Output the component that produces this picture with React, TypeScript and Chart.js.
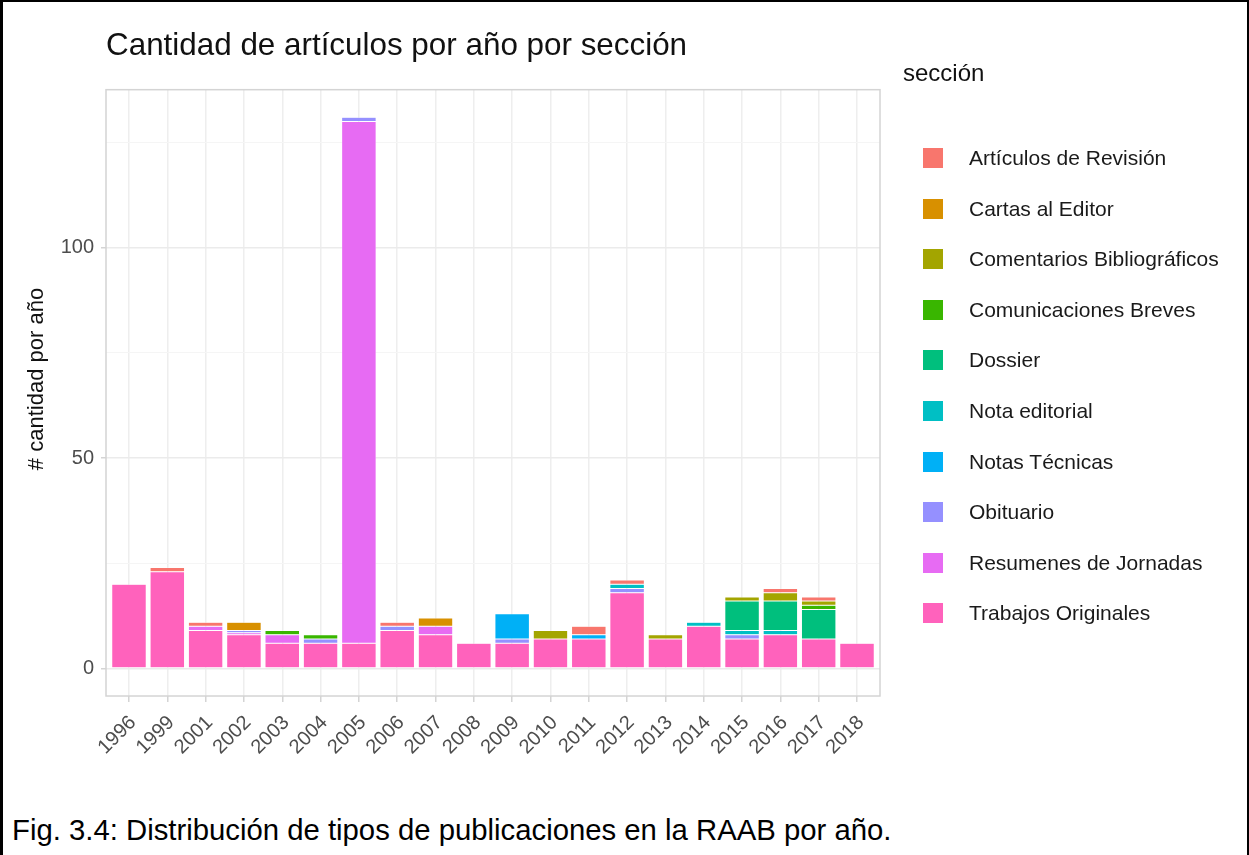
import React, { useEffect, useRef } from 'react';
import { Chart, registerables } from 'chart.js';

Chart.register(...registerables);

const years = ['1996', '1999', '2001', '2002', '2003', '2004', '2005', '2006', '2007', '2008', '2009', '2010', '2011', '2012', '2013', '2014', '2015', '2016', '2017', '2018'];

const sections = ['Artículos de Revisión', 'Cartas al Editor', 'Comentarios Bibliográficos', 'Comunicaciones Breves', 'Dossier', 'Nota editorial', 'Notas Técnicas', 'Obituario', 'Resumenes de Jornadas', 'Trabajos Originales'];
const sectionColors = ['#F8766D', '#D89000', '#A3A500', '#39B600', '#00BF7D', '#00BFC4', '#00B0F6', '#9590FF', '#E76BF3', '#FF62BC'];

const articulosRevision = [0, 1, 1, 0, 0, 0, 0, 1, 0, 0, 0, 0, 2, 1, 0, 0, 0, 1, 1, 0];
const cartasEditor = [0, 0, 0, 2, 0, 0, 0, 0, 2, 0, 0, 0, 0, 0, 0, 0, 0, 0, 0, 0];
const comentariosBiblio = [0, 0, 0, 0, 0, 0, 0, 0, 0, 0, 0, 2, 0, 0, 1, 0, 1, 2, 1, 0];
const comunicacionesBreves = [0, 0, 0, 0, 1, 1, 0, 0, 0, 0, 0, 0, 0, 0, 0, 0, 0, 0, 1, 0];
const dossier = [0, 0, 0, 0, 0, 0, 0, 0, 0, 0, 0, 0, 0, 0, 0, 0, 7, 7, 7, 0];
const notaEditorial = [0, 0, 0, 0, 0, 0, 0, 0, 0, 0, 0, 0, 0, 1, 0, 1, 1, 1, 0, 0];
const notasTecnicas = [0, 0, 0, 0, 0, 0, 0, 0, 0, 0, 6, 0, 1, 0, 0, 0, 0, 0, 0, 0];
const obituario = [0, 0, 0, 0.5, 0, 1, 1, 1, 0, 0, 1, 0, 0, 1, 0, 0, 1, 0, 0, 0];
const resumenesJornadas = [0, 0, 1, 0.5, 2, 0, 124, 0, 2, 0, 0, 0, 0, 0, 0, 0, 0, 0, 0, 0];
const trabajosOriginales = [20, 23, 9, 8, 6, 6, 6, 9, 8, 6, 6, 7, 7, 18, 7, 10, 7, 8, 7, 6];

const seriesValues = [articulosRevision, cartasEditor, comentariosBiblio, comunicacionesBreves, dossier, notaEditorial, notasTecnicas, obituario, resumenesJornadas, trabajosOriginales];

const yTicks = [0, 25, 50, 75, 100, 125];

const chartTitle = 'Cantidad de artículos por año por sección';
const yAxisTitle = '# cantidad por año';
const legendTitle = 'sección';
const caption = 'Fig. 3.4: Distribución de tipos de publicaciones en la RAAB por año.';

const FONT = '"Liberation Sans", Arial, Helvetica, sans-serif';

const panelDecor = {
  id: 'panelDecor',
  afterDatasetsDraw(chart: any) {
    const { ctx, chartArea } = chart;
    ctx.save();
    ctx.strokeStyle = '#D4D4D4';
    ctx.lineWidth = 1.5;
    ctx.strokeRect(chartArea.left, chartArea.top, chartArea.right - chartArea.left, chartArea.bottom - chartArea.top);
    ctx.restore();
  },
  afterDraw(chart: any) {
    const { ctx } = chart;
    ctx.save();
    ctx.translate(37, 379);
    ctx.rotate(-Math.PI / 2);
    ctx.textAlign = 'center';
    ctx.textBaseline = 'middle';
    ctx.fillStyle = '#111';
    ctx.font = '22px ' + FONT;
    ctx.fillText(yAxisTitle, 0, 0);
    ctx.restore();
  },
};

export default function App() {
  const canvasRef = useRef<HTMLCanvasElement | null>(null);

  useEffect(() => {
    if (!canvasRef.current) return;
    // stack bottom-first: Trabajos Originales at the bottom
    const order = sections.map((_, i) => i).reverse();
    const datasets = order.map((si) => ({
      label: sections[si],
      data: years.map((_, i) => ({ x: i, y: seriesValues[si][i] ? seriesValues[si][i] : null })),
      backgroundColor: sectionColors[si],
      borderColor: 'rgba(255,255,255,0.8)',
      borderWidth: 0.5,
      borderSkipped: false,
      barPercentage: 0.9,
      categoryPercentage: 1.0,
    }));

    const chart = new Chart(canvasRef.current, {
      type: 'bar',
      data: { datasets },
      plugins: [panelDecor],
      options: {
        animation: false,
        responsive: false,
        devicePixelRatio: 1,
        layout: { padding: { left: 0, top: 0, right: 369, bottom: 0 } },
        plugins: {
          legend: { display: false },
          tooltip: { enabled: false },
          title: {
            display: true,
            text: chartTitle,
            align: 'start',
            fullSize: false,
            color: '#111',
            font: { family: FONT, size: 31.4, weight: 'normal', lineHeight: 1.2 },
            padding: { top: 28, bottom: 24 },
          },
        },
        scales: {
          x: {
            type: 'linear',
            stacked: true,
            min: -0.6,
            max: 19.6,
            offset: false,
            afterBuildTicks: (scale: any) => {
              scale.ticks = years.map((_, i) => ({ value: i }));
            },
            afterFit: (scale: any) => {
              scale.height = 84;
            },
            ticks: {
              autoSkip: false,
              maxRotation: 45,
              minRotation: 45,
              padding: 9,
              labelOffset: 4,
              color: '#4D4D4D',
              font: { family: FONT, size: 20 },
              callback: (_v: any, index: number) => years[index],
            },
            grid: {
              offset: false,
              color: '#EEEEEE',
              lineWidth: 1.5,
              tickColor: '#D4D4D4',
              tickLength: 6,
              tickWidth: 1.5,
            },
            border: { display: false },
          },
          y: {
            type: 'linear',
            stacked: true,
            min: -6.55,
            max: 137.55,
            afterBuildTicks: (scale: any) => {
              scale.ticks = yTicks.map((v) => ({ value: v }));
            },
            afterFit: (scale: any) => {
              scale.width = 106;
            },
            ticks: {
              padding: 7,
              color: '#4D4D4D',
              font: { family: FONT, size: 20 },
              callback: (v: any) => (Number(v) % 50 === 0 ? String(v) : ''),
            },
            grid: {
              color: (ctx: any) => (ctx.tick && ctx.tick.value % 50 === 0 ? '#EBEBEB' : '#F5F5F5'),
              lineWidth: (ctx: any) => (ctx.tick && ctx.tick.value % 50 === 0 ? 1.5 : 1),
              tickColor: (ctx: any) => (ctx.tick && ctx.tick.value % 50 === 0 ? '#D4D4D4' : 'rgba(0,0,0,0)'),
              tickLength: 5,
              tickWidth: 1.5,
            },
            border: { display: false },
            title: { display: false },
          },
        },
      },
    } as any);

    return () => {
      chart.destroy();
    };
  }, []);

  return (
    <div style={{ position: 'absolute', left: 0, top: 0, width: 1249, height: 855, background: '#fff', overflow: 'hidden', fontFamily: FONT }}>
      <canvas ref={canvasRef} width={1249} height={780} style={{ position: 'absolute', left: 0, top: 0, width: 1249, height: 780 }} />
      <div style={{ position: 'absolute', left: 903, top: 58, fontSize: 24, lineHeight: '30px', color: '#111', whiteSpace: 'nowrap' }}>{legendTitle}</div>
      {sections.map((name, i) => (
        <div key={name} style={{ position: 'absolute', left: 923, top: 148 + i * 50.6, height: 20, display: 'flex', alignItems: 'center', whiteSpace: 'nowrap' }}>
          <div style={{ width: 20, height: 20, background: sectionColors[i], flex: 'none' }} />
          <div style={{ marginLeft: 26, fontSize: 21, color: '#1A1A1A', lineHeight: '20px' }}>{name}</div>
        </div>
      ))}
      <div style={{ position: 'absolute', left: 12, top: 813, fontSize: 29.3, lineHeight: '34px', color: '#000', whiteSpace: 'nowrap', fontFamily: 'Arial, "Liberation Sans", sans-serif' }}>
        {caption}
      </div>
      <div style={{ position: 'absolute', left: 0, top: 0, width: 1249, height: 855, boxSizing: 'border-box', borderTop: '2px solid #000', borderLeft: '3px solid #000', borderRight: '2px solid #000', pointerEvents: 'none' }} />
    </div>
  );
}
